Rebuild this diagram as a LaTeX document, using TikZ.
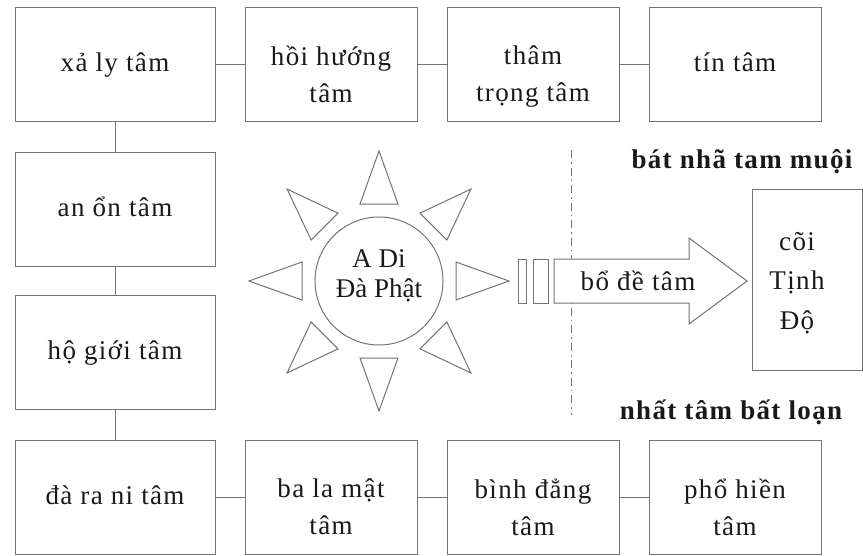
\documentclass[tikz,border=0pt]{standalone}
\usepackage{fontspec}
\setmainfont{Liberation Serif}[LetterSpace=5]
\newfontfamily\sunfont{Liberation Serif}
\usepackage{xcolor}
\usepackage{tikz}
\usetikzlibrary{positioning}

\definecolor{linegray}{gray}{0.45}
\definecolor{inkgray}{gray}{0.1}

\begin{document}
\begin{tikzpicture}[
    x=1pt, y=-1pt,
    tambox/.style = {
        draw=linegray,
        line width=1pt,
        minimum width=172pt,
        minimum height=114pt,
        inner sep=0pt,
        outer sep=0pt
    },
    widebox/.style = {tambox, minimum width=200pt},
    tamtext/.style = {
        anchor=north,
        yshift=-38pt,
        align=center,
        inner sep=0pt,
        text=inkgray,
        font=\fontsize{27}{37}\selectfont,
        execute at begin node=\strut
    },
    linkstyle/.style = {draw=linegray, line width=1pt},
    raystyle/.style = {draw=linegray, line width=1pt, fill=white},
    headstyle/.style = {
        anchor=base,
        inner sep=0pt,
        text=inkgray,
        font=\bfseries\fontsize{27}{32}\selectfont
    }
]
\useasboundingbox (0,0) rectangle (863,555);

% --- Khung tâm (hàng trên, cột trái, hàng dưới) ---
\node[widebox] (xaly) at (115,64.5) {};
\node[tambox] (hoihuong) at (331,64.5) {};
\node[tambox] (thamtrong) at (533,64.5) {};
\node[tambox] (tintam) at (735,64.5) {};
\node[widebox] (anon) at (115,209) {};
\node[widebox] (hogioi) at (115,352.5) {};
\node[widebox] (darani) at (115,497.5) {};
\node[tambox] (balamat) at (331,497.5) {};
\node[tambox] (binhdang) at (533,497.5) {};
\node[tambox] (phohien) at (735,497.5) {};

% --- Chữ trong khung ---
\node[tamtext] (xalyT) at (xaly.north) {xả ly tâm};
\node[tamtext] (hoihuongT) at (hoihuong.north) {hồi hướng\\tâm};
\node[tamtext] (thamtrongT) at (thamtrong.north) {thâm\\trọng tâm};
\node[tamtext] (tintamT) at (tintam.north) {tín tâm};
\node[tamtext] (anonT) at (anon.north) {an ổn tâm};
\node[tamtext] (hogioiT) at (hogioi.north) {hộ giới tâm};
\node[tamtext] (daraniT) at (darani.north) {đà ra ni tâm};
\node[tamtext] (balamatT) at (balamat.north) {ba la mật\\tâm};
\node[tamtext] (binhdangT) at (binhdang.north) {bình đẳng\\tâm};
\node[tamtext] (phohienT) at (phohien.north) {phổ hiền\\tâm};

% --- Nối các khung ---
\draw[linkstyle] (xaly) -- (hoihuong);
\draw[linkstyle] (hoihuong) -- (thamtrong);
\draw[linkstyle] (thamtrong) -- (tintam);
\draw[linkstyle] (xaly) -- (anon);
\draw[linkstyle] (anon) -- (hogioi);
\draw[linkstyle] (hogioi) -- (darani);
\draw[linkstyle] (darani) -- (balamat);
\draw[linkstyle] (balamat) -- (binhdang);
\draw[linkstyle] (binhdang) -- (phohien);

% --- Mặt trời ---
\node[circle, draw=linegray, line width=1pt, minimum size=128pt, inner sep=0pt] (sun) at (379,281) {};
\node[align=center, inner sep=0pt, text=inkgray,
      font=\sunfont\fontsize{27}{30}\selectfont] (sunname) at ([yshift=5pt]sun.center) {A Di\\Đà Phật};
\foreach \a in {0,45,...,315}
    \draw[raystyle, shift={(sun.center)}, rotate=\a] (77,19) -- (130,0) -- (77,-19) -- cycle;

% --- Đường ranh giới ---
\coordinate (cutTop) at (571,150);
\coordinate (cutBot) at (571,415);
\draw[linegray, line width=1pt, dash pattern=on 8pt off 4pt on 1.5pt off 4pt] (cutTop) -- (cutBot);

% --- Mũi tên bồ đề tâm ---
\draw[raystyle] (518,259) rectangle (526,303);
\draw[raystyle] (533,259) rectangle (548,303);
\draw[raystyle] (554,259) -- (689,259) -- (689,238) -- (747,281)
    -- (689,324) -- (689,303) -- (554,303) -- cycle;
\node[anchor=base, inner sep=0pt, text=inkgray, font=\fontsize{27}{32}\selectfont] (bode) at (638,290) {bổ đề tâm};

% --- Cõi Tịnh Độ ---
\node[tambox, minimum width=110pt, minimum height=181pt] (tinhdo) at (807,279.5) {};
\node[align=center, inner sep=0pt, text=inkgray, font=\fontsize{27}{39.5}\selectfont] (tinhdoT) at (797,283) {cõi\\Tịnh\\Độ};

% --- Tiêu đề ---
\node[headstyle] (batnha) at (742,168) {bát nhã tam muội};
\node[headstyle] (nhattam) at (731,419) {nhất tâm bất loạn};

\end{tikzpicture}
\end{document}
